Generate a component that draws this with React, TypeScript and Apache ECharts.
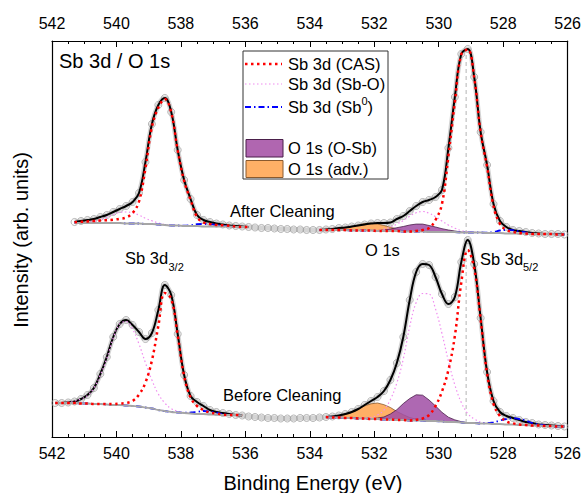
import React, { useEffect, useRef } from "react";
import * as echarts from "echarts";

const FONT = "'Liberation Sans', Arial, Helvetica, sans-serif";

// Binding energy grid (eV)
const energy = [
  541.9, 541.7, 541.5, 541.3, 541.1, 540.9, 540.7, 540.5, 540.3, 540.1,
  539.9, 539.7, 539.5, 539.3, 539.1, 538.9, 538.7, 538.5, 538.3, 538.1,
  537.9, 537.7, 537.5, 537.3, 537.1, 536.9, 536.7, 536.5, 536.3, 536.1,
  535.9, 535.7, 535.5, 535.3, 535.1, 534.9, 534.7, 534.5, 534.3, 534.1,
  533.9, 533.7, 533.5, 533.3, 533.1, 532.9, 532.7, 532.5, 532.3, 532.1,
  531.9, 531.7, 531.5, 531.3, 531.1, 530.9, 530.7, 530.5, 530.3, 530.1,
  529.9, 529.7, 529.5, 529.3, 529.1, 528.9, 528.7, 528.5, 528.3, 528.1,
  527.9, 527.7, 527.5, 527.3, 527.1, 526.9, 526.7, 526.5, 526.3, 526.1,
];

// "After Cleaning" measured intensity (offset, arb. units)
const afterData = [
  null, null, null, 215, 216, 217, 218, 220, 222, 225,
  228, 231, 235, 244, 275, 313, 332, 339, 325, 287,
  257, 238, 222, 217, 215, 213.5, 212.5, 211.5, 211, 210.5,
  210, 209.5, 209, 209, 208.5, 208, 208, 207.5, 207.5, 207,
  207, 207, 207.5, 208, 209, 209.5, 210.5, 211.5, 212.5, 213.5,
  214, 214, 214.5, 218, 221, 226, 231, 235, 237, 240,
  247, 289, 340, 383, 388, 360, 305, 272, 233, 216,
  210, 207, 206, 205, 204, 203.5, 203, 203, 203, 202.5,
];

// "After Cleaning" background (null = outside fit window)
const afterBackground = [
  null, null, null, 214, 214, 214, 214, 214, 214, 214,
  214, 213.5, 213.5, 213.5, 213, 213, 212.5, 212, 211.5, 211.5,
  211, 211, 211, 210.5, 210.5, 210.5, 210.5, 210.5, 210, 210,
  210, null, null, null, null, null, null, null, null, null,
  null, 207, 207, 207, 207, 207, 206.5, 206.5, 206.5, 206.5,
  206, 206, 206, 206, 205.5, 205.5, 205.5, 205.5, 205, 205,
  205, 205, 205, 204.5, 204.5, 204.5, 204.5, 204, 204, 204,
  203.5, 203.5, 203.5, 203.5, 203, 203, 203, 203, 202.5, 202.5,
];

// "Before Cleaning" measured intensity
const beforeData = [
  34, 34, 34.5, 35.5, 38, 42, 49, 63, 80, 100,
  113, 117, 112, 105, 98, 104, 127, 152, 142, 103,
  62, 41, 35, 31, 27, 25, 24, 23, 22, 21.5,
  20.5, 20, 19.5, 19, 19, 18.5, 18.5, 18.5, 19, 19,
  19, 19.5, 20, 20.5, 21.5, 23, 25, 28, 32, 36,
  40, 46, 57, 74, 100, 137, 165, 173, 172, 160,
  143, 133, 140, 175, 197, 173, 119, 65, 36, 25,
  21, 19, 17, 15, 14, 12.5, 12, 11.5, 11, 10.5,
];

// "Before Cleaning" background
const beforeBackground = [
  34, 34, 34, 34, 33.5, 33.5, 33, 33, 32.5, 32,
  32, 31.5, 31, 30.5, 29.5, 28.5, 27, 26, 25, 24.5,
  24, 23.5, 23, 23, 22.5, 22.5, 22, 22, 22, 21.5,
  null, null, null, null, null, null, null, null, null, null,
  null, null, 20, 19.5, 19.5, 19, 19, 18.5, 18.5, 18,
  18, 17.5, 17.5, 17, 17, 16.5, 16.5, 16.5, 16, 16,
  15.5, 15, 15, 14.5, 14, 14, 13.5, 13.5, 13, 13,
  12.5, 12.5, 12, 12, 11.5, 11.5, 11, 11, 10.5, 10.5,
];

// Components: [energy, height above background]
const afterCAS = [
  [541.3, 0.8], [541.1, 1.2], [540.9, 1.6], [540.7, 2], [540.5, 2.4], [540.3, 2.8], [540.1, 3.3],
  [539.9, 4.2], [539.7, 6], [539.5, 10.5], [539.3, 22], [539.1, 56], [538.9, 97], [538.7, 117],
  [538.5, 126], [538.3, 113], [538.1, 75], [537.9, 45], [537.7, 26], [537.5, 9], [537.3, 4],
  [537.1, 2.5], [536.9, 1.5], [536.7, 1.2], [536.5, 0.8], [536.3, 0.5],
  [530.7, 0.5], [530.5, 1.5], [530.3, 4], [530.1, 12], [529.9, 28], [529.7, 76], [529.5, 130],
  [529.3, 178], [529.1, 183], [528.9, 155], [528.7, 100], [528.5, 66], [528.3, 27], [528.1, 9],
  [527.9, 3.5], [527.7, 1.5], [527.5, 0.5],
];
const afterSbO = [
  [541.1, 0.2], [540.9, 0.6], [540.7, 1.6], [540.5, 3.2], [540.3, 5.6], [540.1, 8.4], [539.9, 10.6],
  [539.7, 11.5], [539.5, 10.6], [539.3, 8.4], [539.1, 5.6], [538.9, 3.2], [538.7, 1.6], [538.5, 0.6],
  [538.3, 0.2],
  [531.9, 0.8], [531.7, 1.9], [531.5, 3.8], [531.3, 6.9], [531.1, 11], [530.9, 15.3], [530.7, 18.8],
  [530.5, 20], [530.3, 18.8], [530.1, 15.3], [529.9, 11], [529.7, 6.9], [529.5, 3.8], [529.3, 1.9],
  [529.1, 0.8], [528.9, 0.3],
];
const afterSb0 = [
  [537.9, 0.3], [537.7, 0.8], [537.5, 1.8], [537.3, 2.5], [537.1, 2.3], [536.9, 1.5], [536.7, 0.7], [536.5, 0.2],
  [528.5, 0.3], [528.3, 1], [528.1, 2.5], [527.9, 3.5], [527.7, 3.3], [527.5, 2.2], [527.3, 1], [527.1, 0.4],
];
const afterOSb = [
  [532.1, 0.2], [531.9, 0.5], [531.7, 1], [531.5, 2], [531.3, 3.3], [531.1, 5], [530.9, 6.5], [530.7, 7.4],
  [530.5, 7.4], [530.3, 6.5], [530.1, 5], [529.9, 3.3], [529.7, 2], [529.5, 1], [529.3, 0.5], [529.1, 0.2],
];
const afterAdv = [
  [533.5, 0.15], [533.3, 0.4], [533.1, 1], [532.9, 2.1], [532.7, 3.7], [532.5, 5.5], [532.3, 6.9], [532.1, 7.5],
  [531.9, 6.9], [531.7, 5.5], [531.5, 3.7], [531.3, 2.1], [531.1, 1], [530.9, 0.4], [530.7, 0.15],
];

const beforeCAS = [
  [540.3, 0.5], [540.1, 1], [539.9, 1.5], [539.7, 2.5], [539.5, 5], [539.3, 12], [539.1, 25], [538.9, 48],
  [538.7, 84], [538.5, 118], [538.3, 113], [538.1, 77], [537.9, 37], [537.7, 16], [537.5, 8], [537.3, 4],
  [537.1, 2], [536.9, 1], [536.7, 0.5],
  [530.7, 0.8], [530.5, 2], [530.3, 6], [530.1, 15], [529.9, 30], [529.7, 52], [529.5, 86], [529.3, 140],
  [529.1, 173], [528.9, 155], [528.7, 104], [528.5, 50], [528.3, 20], [528.1, 8], [527.9, 3], [527.7, 1.2],
  [527.5, 0.5],
];
const beforeSbO = [
  [541.5, 0.7], [541.3, 2], [541.1, 4.5], [540.9, 8], [540.7, 16], [540.5, 29], [540.3, 46], [540.1, 67],
  [539.9, 80.8], [539.7, 84], [539.5, 77], [539.3, 62.4], [539.1, 44.6], [538.9, 28.4], [538.7, 16],
  [538.5, 7.9], [538.3, 3.4], [538.1, 1.3], [537.9, 0.5],
  [532.3, 0.5], [532.1, 1.5], [531.9, 4], [531.7, 9.5], [531.5, 20], [531.3, 37], [531.1, 61], [530.9, 94],
  [530.7, 118], [530.5, 127], [530.3, 127], [530.1, 112], [529.9, 88], [529.7, 61], [529.5, 37],
  [529.3, 20], [529.1, 9.5], [528.9, 4], [528.7, 1.5], [528.5, 0.5],
];
const beforeSb0 = [
  [537.9, 0.3], [537.7, 1], [537.5, 2.2], [537.3, 3], [537.1, 2.8], [536.9, 1.8], [536.7, 0.8], [536.5, 0.3],
  [528.5, 0.5], [528.3, 1.5], [528.1, 3.5], [527.9, 5.5], [527.7, 6.5], [527.5, 6], [527.3, 4.5],
  [527.1, 2.5], [526.9, 1.2], [526.7, 0.5],
];
const beforeOSb = [
  [532.1, 0.3], [531.9, 1], [531.7, 2.5], [531.5, 5.5], [531.3, 10.3], [531.1, 16.4], [530.9, 22],
  [530.7, 25.7], [530.5, 25.3], [530.3, 21], [530.1, 15], [529.9, 9.2], [529.7, 4.8], [529.5, 2.1],
  [529.3, 0.8], [529.1, 0.3],
];
const beforeAdv = [
  [533.5, 0.3], [533.3, 0.7], [533.1, 1.6], [532.9, 3.3], [532.7, 5.9], [532.5, 9.2], [532.3, 12.6],
  [532.1, 15.2], [531.9, 16], [531.7, 14.8], [531.5, 12], [531.3, 8.5], [531.1, 5.3], [530.9, 2.9],
  [530.7, 1.4], [530.5, 0.6], [530.3, 0.2],
];

const refEnergy = 529.15;
const xTickValues = [542, 540, 538, 536, 534, 532, 530, 528, 526];

const RED = "#ff0000";
const PINK = "#f08cf0";
const BLUE = "#0000ff";
const PURPLE_FILL = "rgba(160, 78, 165, 0.85)";
const PURPLE_EDGE = "#4a1f4a";
const ORANGE_FILL = "#ffb066";
const ORANGE_EDGE = "#8a5a2e";

const key = (e: number) => e.toFixed(1);
const toMap = (pairs: number[][]) => {
  const m = new Map<string, number>();
  pairs.forEach(([e, v]) => m.set(key(e), v));
  return m;
};
const bgMap = (bg: (number | null)[]) => {
  const m = new Map<string, number>();
  energy.forEach((e, i) => {
    if (bg[i] != null) m.set(key(e), bg[i] as number);
  });
  return m;
};

export default function App() {
  const ref = useRef<HTMLDivElement>(null);

  useEffect(() => {
    if (!ref.current) return;
    const chart = echarts.init(ref.current, null, { renderer: "svg" });

    const lineData = (vals: (number | null)[]) =>
      energy.map((e, i) => [e, vals[i] == null ? "-" : vals[i]]);

    const fitData = (data: (number | null)[], bg: (number | null)[]) =>
      energy.map((e, i) => [e, bg[i] == null || data[i] == null ? "-" : data[i]]);

    const compData = (pairs: number[][], bg: (number | null)[]) => {
      const m = toMap(pairs);
      return energy.map((e, i) =>
        bg[i] == null ? [e, "-"] : [e, (bg[i] as number) + (m.get(key(e)) ?? 0)]
      );
    };

    const bandSeries = (vals: (number | null)[]) => ({
      type: "line",
      data: lineData(vals),
      symbol: "none",
      smooth: 0.4,
      silent: true,
      z: 1,
      lineStyle: { color: "#d4d4d4", width: 5 },
    });

    const dotSeries = (vals: (number | null)[]) => ({
      type: "scatter",
      data: energy
        .map((e, i) => [e, vals[i]])
        .filter((p) => p[1] != null),
      symbol: "circle",
      symbolSize: 7,
      silent: true,
      z: 2,
      itemStyle: { color: "rgba(255,255,255,0)", borderColor: "#a2a2a2", borderWidth: 1 },
    });

    const bgSeries = (bg: (number | null)[]) => ({
      type: "line",
      data: lineData(bg),
      symbol: "none",
      smooth: 0.4,
      silent: true,
      z: 8.5,
      lineStyle: { color: "#a6a6a6", width: 1.8 },
    });

    const fillSeries = (pairs: number[][], bg: (number | null)[], fill: string, stroke: string, z: number) => {
      const bm = bgMap(bg);
      return {
        type: "custom",
        coordinateSystem: "cartesian2d",
        silent: true,
        z,
        data: pairs.map(([e, v]) => [e, (bm.get(key(e)) ?? 0) + v]),
        renderItem: (params: any, api: any) => {
          if (params.dataIndex !== 0) return null;
          const top = pairs.map(([e, v]) => api.coord([e, (bm.get(key(e)) ?? 0) + v]));
          const base = pairs
            .slice()
            .reverse()
            .map(([e]) => api.coord([e, bm.get(key(e)) ?? 0]));
          return {
            type: "polygon",
            shape: { points: top.concat(base) },
            style: { fill, stroke, lineWidth: 0.8 },
          };
        },
      };
    };

    const fitSeries = (data: (number | null)[], bg: (number | null)[]) => ({
      type: "line",
      data: fitData(data, bg),
      symbol: "none",
      smooth: 0.4,
      silent: true,
      z: 6,
      lineStyle: { color: "#000", width: 2 },
    });

    const compSeries = (pairs: number[][], bg: (number | null)[], lineStyle: any, z: number) => ({
      type: "line",
      data: compData(pairs, bg),
      symbol: "none",
      smooth: 0.4,
      silent: true,
      z,
      lineStyle,
    });

    const redStyle = { color: RED, width: 2.5, type: [2.5, 3.5] };
    const pinkStyle = { color: PINK, width: 1.2, type: [1.5, 2.5] };
    const blueStyle = { color: BLUE, width: 1.8, type: [6, 3, 1.5, 3] };

    const refIdx = energy.findIndex((e) => key(e) === key(Math.floor(refEnergy * 10) / 10));
    const refLow = beforeBackground[refIdx] as number;
    const refHigh = Math.max(...(afterData.filter((v) => v != null) as number[]));

    const baseAxis = {
      type: "value",
      min: 526,
      max: 542,
      interval: 2,
      inverse: true,
      splitLine: { show: false },
      axisLine: { show: true, onZero: false, lineStyle: { color: "#000", width: 1.2 } },
      axisTick: { show: true, inside: true, length: 6, lineStyle: { color: "#000", width: 1 } },
      minorTick: { show: true, splitNumber: 4, length: 3, lineStyle: { color: "#000", width: 1 } },
    };

    const text = (str: string, x: number, y: number, size: number, extra: any = {}) => ({
      type: "text",
      x,
      y,
      z: 100,
      silent: true,
      style: {
        text: str,
        fill: "#000",
        font: `${size}px ${FONT}`,
        align: "left",
        verticalAlign: "middle",
        textAlign: "left",
        textVerticalAlign: "middle",
        ...extra,
      },
    });

    const option: any = {
      animation: false,
      backgroundColor: "#fff",
      grid: { left: 52, right: 16, top: 41, bottom: 56, containLabel: false },
      xAxis: [
        {
          ...baseAxis,
          position: "bottom",
          axisLabel: {
            color: "#000",
            fontSize: 16,
            fontFamily: FONT,
            margin: 8,
            formatter: (v: number) => (xTickValues.includes(v) ? String(v) : ""),
          },
        },
        {
          ...baseAxis,
          position: "top",
          axisLabel: {
            color: "#000",
            fontSize: 16,
            fontFamily: FONT,
            margin: 10,
            formatter: (v: number) => (xTickValues.includes(v) ? String(v) : ""),
          },
        },
      ],
      yAxis: [
        {
          type: "value",
          min: 0,
          max: 396,
          position: "left",
          splitLine: { show: false },
          axisTick: { show: false },
          axisLabel: { show: false },
          axisLine: { show: true, onZero: false, lineStyle: { color: "#000", width: 1.2 } },
        },
        {
          type: "value",
          min: 0,
          max: 396,
          position: "right",
          splitLine: { show: false },
          axisTick: { show: false },
          axisLabel: { show: false },
          axisLine: { show: true, onZero: false, lineStyle: { color: "#000", width: 1.2 } },
        },
      ],
      series: [
        {
          type: "line",
          data: [
            [refEnergy, refLow],
            [refEnergy, refHigh],
          ],
          symbol: "none",
          silent: true,
          z: 0,
          lineStyle: { color: "#b4b4b4", width: 1, type: [4, 3] },
        },
        bandSeries(afterData),
        bandSeries(beforeData),
        dotSeries(afterData),
        dotSeries(beforeData),
        fillSeries(afterAdv, afterBackground, ORANGE_FILL, ORANGE_EDGE, 4),
        fillSeries(afterOSb, afterBackground, PURPLE_FILL, PURPLE_EDGE, 5),
        fillSeries(beforeAdv, beforeBackground, ORANGE_FILL, ORANGE_EDGE, 4),
        fillSeries(beforeOSb, beforeBackground, PURPLE_FILL, PURPLE_EDGE, 5),
        fitSeries(afterData, afterBackground),
        fitSeries(beforeData, beforeBackground),
        compSeries(afterSbO, afterBackground, pinkStyle, 7),
        compSeries(beforeSbO, beforeBackground, pinkStyle, 7),
        compSeries(afterSb0, afterBackground, blueStyle, 8),
        compSeries(beforeSb0, beforeBackground, blueStyle, 8),
        bgSeries(afterBackground),
        bgSeries(beforeBackground),
        compSeries(afterCAS, afterBackground, redStyle, 9),
        compSeries(beforeCAS, beforeBackground, redStyle, 9),
      ],
      graphic: [
        text("Sb 3d / O 1s", 59, 61, 20),
        text("After Cleaning", 230, 211, 16.5),
        text("Before Cleaning", 223, 395, 16.5),
        text("Sb 3d", 125, 258, 16.5),
        text("3/2", 168.5, 266.5, 11),
        text("O 1s", 365, 250, 16.5),
        text("Sb 3d", 480, 259, 16.5),
        text("5/2", 523, 267, 11),
        {
          type: "text",
          x: 313,
          y: 483,
          z: 100,
          silent: true,
          style: {
            text: "Binding Energy (eV)",
            fill: "#000",
            font: `20px ${FONT}`,
            align: "center",
            verticalAlign: "middle",
            textAlign: "center",
            textVerticalAlign: "middle",
          },
        },
        {
          type: "text",
          x: 21,
          y: 240,
          z: 100,
          rotation: Math.PI / 2,
          silent: true,
          style: {
            text: "Intensity (arb. units)",
            fill: "#000",
            font: `20px ${FONT}`,
            align: "center",
            verticalAlign: "middle",
            textAlign: "center",
            textVerticalAlign: "middle",
          },
        },
        // legend
        {
          type: "rect",
          z: 90,
          silent: true,
          shape: { x: 243, y: 51, width: 145, height: 128 },
          style: { fill: "#fff", stroke: "#333", lineWidth: 1 },
        },
        {
          type: "line",
          z: 95,
          silent: true,
          shape: { x1: 245, y1: 64, x2: 282, y2: 64 },
          style: { stroke: RED, lineWidth: 2.5, lineDash: [2.5, 3.5] },
        },
        text("Sb 3d (CAS)", 288, 64, 16.5),
        {
          type: "line",
          z: 95,
          silent: true,
          shape: { x1: 245, y1: 84, x2: 282, y2: 84 },
          style: { stroke: PINK, lineWidth: 1.2, lineDash: [1.5, 2.5] },
        },
        text("Sb 3d (Sb-O)", 288, 84, 16.5),
        {
          type: "line",
          z: 95,
          silent: true,
          shape: { x1: 245, y1: 107, x2: 282, y2: 107 },
          style: { stroke: BLUE, lineWidth: 2, lineDash: [6, 3, 1.5, 3] },
        },
        text("Sb 3d (Sb", 288, 107, 16.5),
        text("0", 361.5, 101, 11),
        text(")", 367.5, 107, 16.5),
        {
          type: "rect",
          z: 95,
          silent: true,
          shape: { x: 246, y: 139.5, width: 37, height: 17.5 },
          style: { fill: "#b066b0", stroke: PURPLE_EDGE, lineWidth: 1 },
        },
        text("O 1s (O-Sb)", 288, 148, 16.5),
        {
          type: "rect",
          z: 95,
          silent: true,
          shape: { x: 246, y: 160.5, width: 37, height: 17 },
          style: { fill: ORANGE_FILL, stroke: ORANGE_EDGE, lineWidth: 1 },
        },
        text("O 1s (adv.)", 288, 169, 16.5),
      ],
    };

    chart.setOption(option);
    return () => chart.dispose();
  }, []);

  return (
    <div
      ref={ref}
      style={{ position: "absolute", left: 0, top: 0, width: 584, height: 493 }}
    />
  );
}
